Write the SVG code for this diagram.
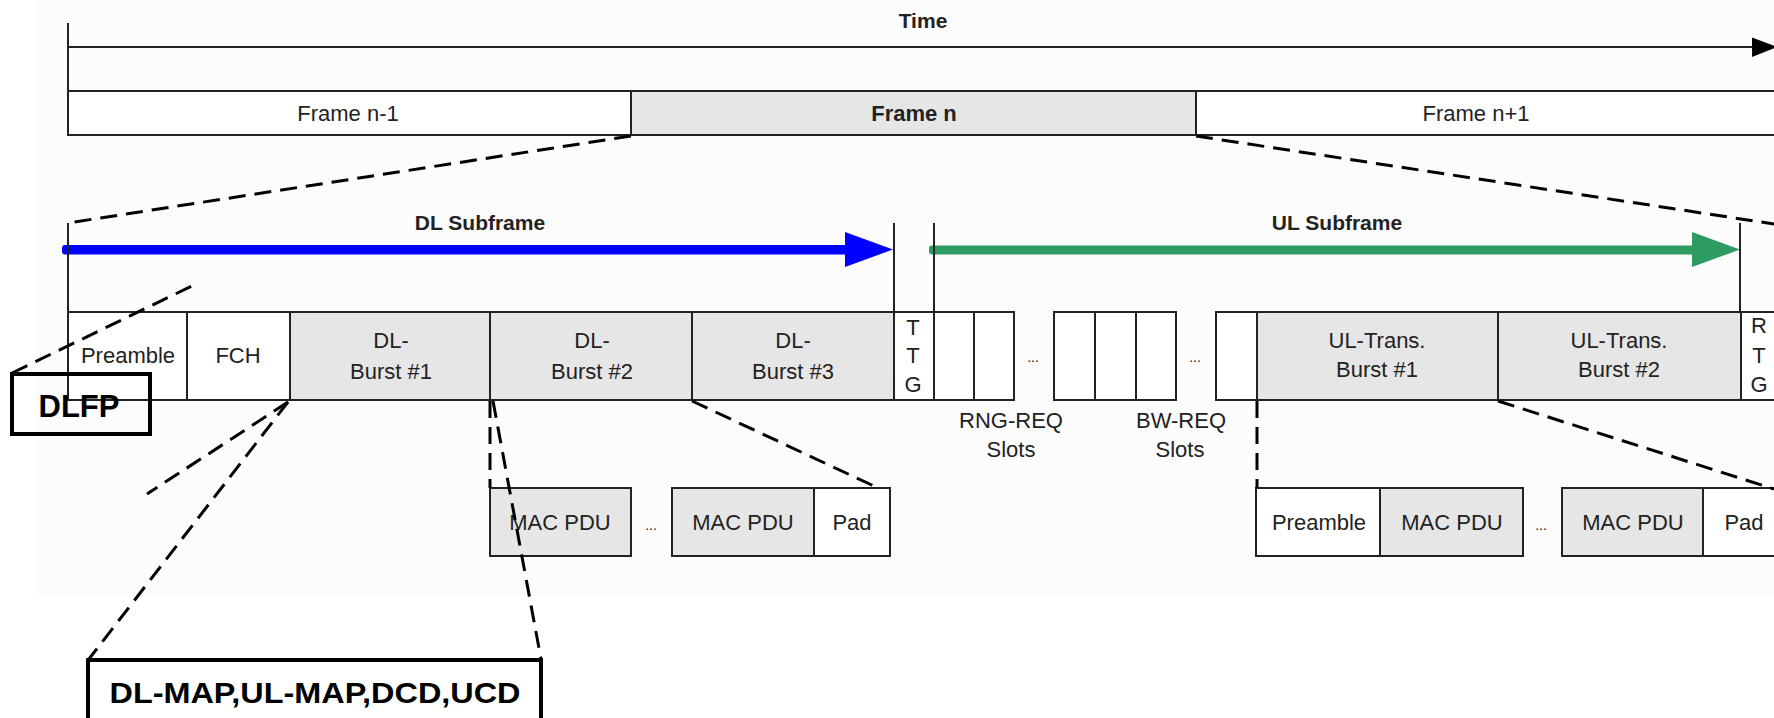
<svg xmlns="http://www.w3.org/2000/svg" width="1774" height="718" viewBox="0 0 1774 718">
<style>
  .t { font-family: "Liberation Sans", Arial, sans-serif; font-size: 22px; fill: #222; text-anchor: middle; }
  .b { font-weight: bold; }
  .sm { font-size: 14px; }
  .box { stroke: #222; stroke-width: 2; }
  .w { fill: #ffffff; }
  .g { fill: #e6e6e6; }
  .ln { stroke: #222; stroke-width: 2; fill: none; }
  .dash { stroke: #000; stroke-width: 3; stroke-dasharray: 17 9; fill: none; }
  .thick { stroke: #000; stroke-width: 4; fill: none; }
</style>
<rect x="0" y="0" width="1774" height="718" fill="#ffffff"/>
<rect x="38" y="0" width="1736" height="595" fill="#fcfcfc"/>

<g id="time-axis">
  <text class="t b" x="923" y="28" style="font-size:21px">Time</text>
  <line class="ln" x1="68" y1="23" x2="68" y2="135"/>
  <line class="ln" x1="68" y1="47" x2="1756" y2="47"/>
  <polygon points="1752,37.5 1752,57 1777,47" fill="#000"/>
</g>

<g id="frame-row">
  <rect class="box w" x="68" y="91" width="563" height="44"/>
  <rect class="box g" x="631" y="91" width="565" height="44"/>
  <rect class="box w" x="1196" y="91" width="600" height="44"/>
  <text class="t" x="348" y="121">Frame n-1</text>
  <text class="t b" x="914" y="121">Frame n</text>
  <text class="t" x="1476" y="121">Frame n+1</text>
</g>

<g id="subframe-arrows">
  <text class="t b" x="480" y="230" style="font-size:21px">DL Subframe</text>
  <text class="t b" x="1337" y="230" style="font-size:21px">UL Subframe</text>
  <rect x="62" y="245" width="790" height="9.5" rx="3" fill="#0000ff"/>
  <polygon points="845,232 845,267 893,249.5" fill="#0000ff"/>
  <rect x="929" y="245.5" width="768" height="9" rx="3" fill="#2e9b62"/>
  <polygon points="1692,232 1692,267 1740,249.5" fill="#2e9b62"/>
  <line class="ln" x1="68" y1="223" x2="68" y2="312"/>
  <line class="ln" x1="894" y1="223" x2="894" y2="312"/>
  <line class="ln" x1="934" y1="223" x2="934" y2="312"/>
  <line class="ln" x1="1740" y1="223" x2="1740" y2="312"/>
</g>

<g id="subframe-row">
  <rect class="box w" x="68" y="312" width="119" height="88"/>
  <rect class="box w" x="187" y="312" width="103" height="88"/>
  <rect class="box g" x="290" y="312" width="200" height="88"/>
  <rect class="box g" x="490" y="312" width="202" height="88"/>
  <rect class="box g" x="692" y="312" width="202" height="88"/>
  <rect class="box w" x="894" y="312" width="40" height="88"/>
  <rect class="box w" x="934" y="312" width="40" height="88"/>
  <rect class="box w" x="974" y="312" width="40" height="88"/>
  <rect class="box w" x="1054" y="312" width="41" height="88"/>
  <rect class="box w" x="1095" y="312" width="41" height="88"/>
  <rect class="box w" x="1136" y="312" width="40" height="88"/>
  <rect class="box w" x="1216" y="312" width="41" height="88"/>
  <rect class="box g" x="1257" y="312" width="241" height="88"/>
  <rect class="box g" x="1498" y="312" width="243" height="88"/>
  <rect class="box w" x="1741" y="312" width="60" height="88"/>

  <text class="t" x="128" y="363" fill="#444">Preamble</text>
  <text class="t" x="238" y="363">FCH</text>
  <text class="t" x="391" y="348">DL-</text>
  <text class="t" x="391" y="379">Burst #1</text>
  <text class="t" x="592" y="348">DL-</text>
  <text class="t" x="592" y="379">Burst #2</text>
  <text class="t" x="793" y="348">DL-</text>
  <text class="t" x="793" y="379">Burst #3</text>
  <text class="t" x="913" y="335">T</text>
  <text class="t" x="913" y="363">T</text>
  <text class="t" x="913" y="392">G</text>
  <text class="t sm" x="1033" y="362">...</text>
  <text class="t sm" x="1195" y="362">...</text>
  <text class="t" x="1377" y="348">UL-Trans.</text>
  <text class="t" x="1377" y="377">Burst #1</text>
  <text class="t" x="1619" y="348">UL-Trans.</text>
  <text class="t" x="1619" y="377">Burst #2</text>
  <text class="t" x="1759" y="333">R</text>
  <text class="t" x="1759" y="363">T</text>
  <text class="t" x="1759" y="392">G</text>
  <text class="t" x="1011" y="428">RNG-REQ</text>
  <text class="t" x="1011" y="457">Slots</text>
  <text class="t" x="1181" y="428">BW-REQ</text>
  <text class="t" x="1180" y="457">Slots</text>
</g>

<g id="dl-burst-pdus">
  <rect class="box g" x="490" y="488" width="141" height="68"/>
  <rect class="box g" x="672" y="488" width="142" height="68"/>
  <rect class="box w" x="814" y="488" width="76" height="68"/>
  <text class="t" x="560" y="530">MAC PDU</text>
  <text class="t sm" x="651" y="530">...</text>
  <text class="t" x="743" y="530">MAC PDU</text>
  <text class="t" x="852" y="530">Pad</text>
</g>

<g id="ul-burst-pdus">
  <rect class="box w" x="1256" y="488" width="124" height="68"/>
  <rect class="box g" x="1380" y="488" width="143" height="68"/>
  <rect class="box g" x="1562" y="488" width="141" height="68"/>
  <rect class="box w" x="1703" y="488" width="90" height="68"/>
  <text class="t" x="1319" y="530">Preamble</text>
  <text class="t" x="1452" y="530">MAC PDU</text>
  <text class="t sm" x="1541" y="530">...</text>
  <text class="t" x="1633" y="530">MAC PDU</text>
  <text class="t" x="1744" y="530">Pad</text>
</g>

<g id="dlfp">
  <rect class="thick" x="12" y="374" width="138" height="60"/>
  <text class="t b" x="79" y="417" style="font-size:31px;fill:#000">DLFP</text>
</g>

<g id="dl-map">
  <path class="thick" d="M88,730 V660 H541 V730"/>
  <text class="t b" x="315" y="703" textLength="411" lengthAdjust="spacingAndGlyphs" style="font-size:30px;fill:#000">DL-MAP,UL-MAP,DCD,UCD</text>
</g>

<g id="connectors">
  <line class="dash" x1="631" y1="136" x2="68" y2="223"/>
  <line class="dash" x1="1196" y1="136" x2="1774" y2="224"/>
  <line class="dash" x1="12" y1="373" x2="198" y2="283"/>
  <line class="dash" x1="288" y1="402" x2="147" y2="494"/>
  <line class="dash" x1="288" y1="402" x2="89" y2="659"/>
  <line class="dash" x1="490" y1="401" x2="490" y2="488"/>
  <line class="dash" x1="493" y1="401" x2="541" y2="659"/>
  <line class="dash" x1="692" y1="401" x2="876" y2="487"/>
  <line class="dash" x1="1257" y1="401" x2="1257" y2="488"/>
  <line class="dash" x1="1498" y1="401" x2="1774" y2="489"/>
</g>
</svg>
